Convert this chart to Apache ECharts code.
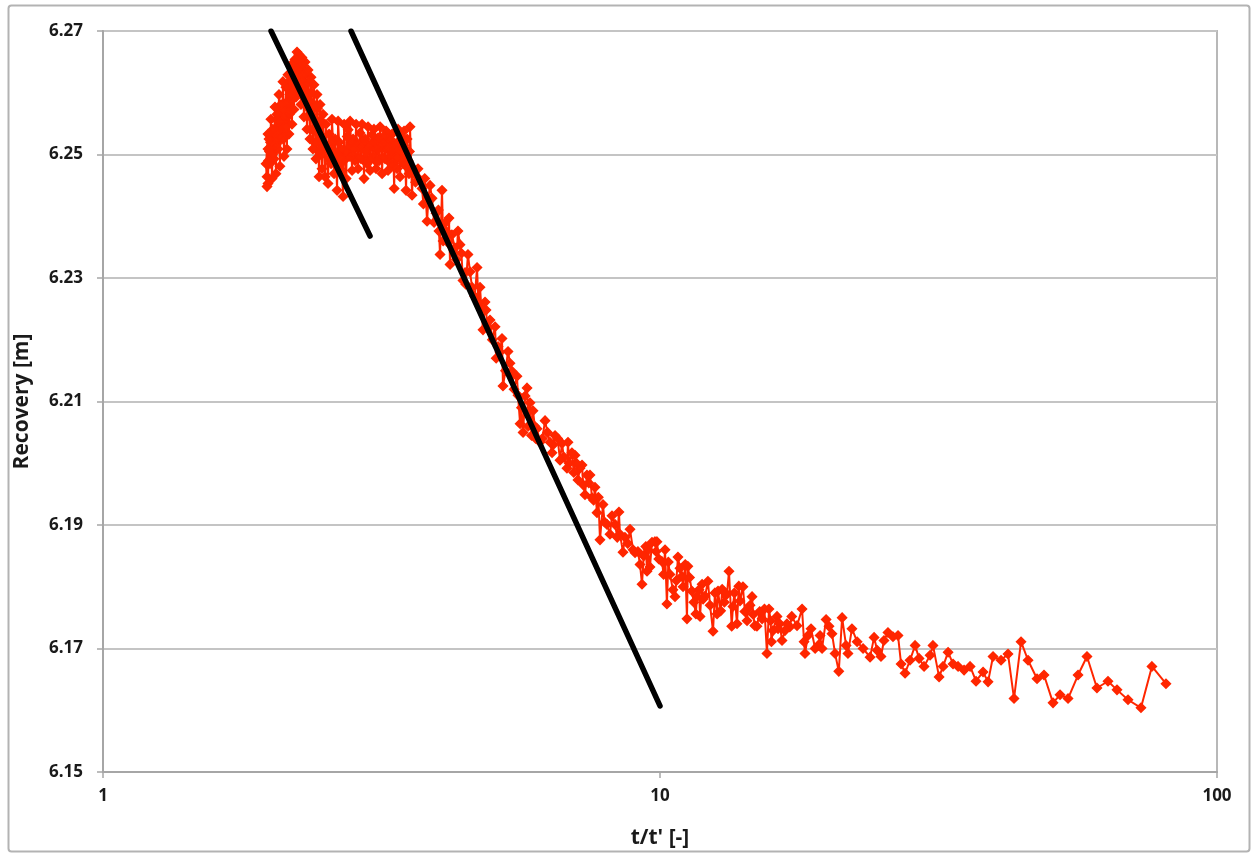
<!DOCTYPE html>
<html>
<head>
<meta charset="utf-8">
<script src="https://cdn.jsdelivr.net/npm/echarts@6/dist/echarts.min.js"></script>
<style>
  html, body { margin: 0; padding: 0; background: #fff; }
  #chart { width: 1252px; height: 854px; }
</style>
</head>
<body>
<div id="chart"></div>
<script>
// recovery data [t/t', recovery m]; late data (high t/t') first
const tailPts = [
  [80.98,6.1643],[76.42,6.1671],[73.03,6.1604],[69.22,6.1617],[66.14,6.1633],[63.72,6.1647],
  [60.88,6.1636],[58.42,6.1687],[56.30,6.1657],[54.02,6.1619],[52.26,6.1625],[50.77,6.1612],
  [48.91,6.1657],[47.52,6.1651],[45.79,6.1681],[44.48,6.1711],[43.21,6.1619],[42.15,6.1691],
  [40.95,6.1681],[39.62,6.1687],[38.81,6.1646],[38.02,6.1662],[36.93,6.1647],[36.04,6.1671],
  [35.15,6.1665],[34.29,6.1671],[33.58,6.1675],[32.90,6.1694],[32.23,6.1671],[31.70,6.1654],
  [30.91,6.1705],[30.54,6.1689],[29.79,6.1671],[29.18,6.1684],[28.71,6.1705],[28.11,6.1681],
  [27.54,6.1660],[27.09,6.1675],[26.75,6.1721],[26.20,6.1719],[25.66,6.1726],[25.24,6.1713],
  [24.93,6.1687],[24.54,6.1697],[24.23,6.1718],[23.83,6.1686],[23.15,6.1700],[22.59,6.1711],
  [22.11,6.1732],[21.75,6.1692],[21.58,6.1705],[21.23,6.1750],[20.94,6.1663],[20.62,6.1692],
  [20.36,6.1724],[20.11,6.1736],[19.87,6.1747],[19.54,6.1700],[19.38,6.1721],[19.23,6.1705],
  [18.99,6.1700],[18.67,6.1732],[18.44,6.1721],[18.21,6.1692],[18.14,6.1711],[17.99,6.1764]
];
const midPts = [
  [17.62,6.1737],[17.24,6.1752],[16.90,6.1740],[16.76,6.1729],[16.56,6.1713],[16.29,6.1732],
  [16.22,6.1752],[15.95,6.1729],[15.85,6.1711],[15.69,6.1764],[15.56,6.1692],[15.40,6.1764],
  [15.25,6.1748],[14.93,6.1736],[14.80,6.1737],[14.63,6.1784],[14.51,6.1770],[14.39,6.1764],
  [14.33,6.1745],[14.09,6.1800],[13.92,6.1777],[13.85,6.1801],[13.75,6.1740],[13.52,6.1768],
  [13.45,6.1736],[13.30,6.1825],[13.19,6.1788],[12.93,6.1796],[12.85,6.1761],[12.71,6.1793],
  [12.66,6.1756],[12.45,6.1728],[12.19,6.1809],[11.95,6.1780],[11.90,6.1804],[11.80,6.1752],
  [11.65,6.1784],[11.60,6.1756],[11.41,6.1793],[11.22,6.1833],[11.18,6.1748],[11.10,6.1836],
  [10.95,6.1817],[10.86,6.1830],[10.77,6.1848],[10.64,6.1784],[10.55,6.1795],[10.42,6.1820],
  [10.29,6.1772],[10.21,6.1860],[10.08,6.1841],[9.876,6.1873],[9.840,6.1857],[9.795,6.1873],
  [9.674,6.1872],[9.594,6.1832],[9.477,6.1825],[9.430,6.1865],[9.283,6.1804],[9.207,6.1836],
  [9.128,6.1857],[8.944,6.1860],[8.834,6.1893],[8.581,6.1856],[8.476,6.1885],[8.439,6.1921],
  [8.302,6.1901],[8.132,6.1885],[8.032,6.1901],[7.900,6.1933],[7.803,6.1876],[7.707,6.1920],
  [7.643,6.1961],[7.549,6.1944],[7.487,6.1981],[7.450,6.1968],[7.394,6.1981],[7.334,6.1949],
  [7.244,6.1997],[7.184,6.1992],[7.124,6.1973],[7.037,6.2013],[6.948,6.2017],[6.836,6.2034],
  [6.807,6.1992],[6.669,6.2032],[6.614,6.2005],[6.480,6.2045],[6.400,6.2017],[6.347,6.2034],
  [6.217,6.2069],[6.090,6.2034],[6.015,6.2056]
];
const midExtra = [
  [17.10,6.1735],[16.40,6.1740],[15.80,6.1745],[15.10,6.1760],[14.70,6.1755],[14.20,6.1760],
  [13.60,6.1790],[13.05,6.1775],[12.55,6.1790],[12.30,6.1770],[12.05,6.1785],[11.75,6.1795],
  [11.50,6.1775],[11.30,6.1815],[11.00,6.1800],[10.70,6.1810],[10.35,6.1840],[10.15,6.1820],
  [9.950,6.1845],[9.520,6.1860],[9.350,6.1850],[9.020,6.1855],[8.750,6.1870],[8.650,6.1880],
  [8.380,6.1880],[8.200,6.1915],[7.950,6.1905],[7.750,6.1945],[7.600,6.1940],[7.280,6.1965],
  [7.080,6.2000],[7.000,6.1985],[6.870,6.2000],[6.720,6.2010],[6.550,6.2040],[6.430,6.2030],
  [6.280,6.2050],[6.150,6.2040],[5.980,6.2040]
];
const steepPts = [
  [5.916,6.2085],[5.843,6.2098],[5.772,6.2122],[5.725,6.2109],[5.678,6.2050],[5.608,6.2064],
  [5.536,6.2141],[5.424,6.2149],[5.379,6.2162],[5.335,6.2181],[5.225,6.2125],[5.204,6.2202],
  [5.120,6.2189],[5.057,6.2221],[4.952,6.2232],[4.871,6.2248],[4.851,6.2261],[4.811,6.2216],
  [4.752,6.2285],[4.694,6.2317],[4.598,6.2285],[4.521,6.2338],[4.467,6.2309],[4.429,6.2296],
  [4.375,6.2354],[4.338,6.2376],[4.282,6.2349],[4.198,6.2322],[4.180,6.2397],[4.163,6.2357],
  [4.112,6.2389],[4.061,6.2442],[4.028,6.2338],[4.010,6.2376],[3.962,6.2405],[3.897,6.2429],
  [3.865,6.2450],[3.818,6.2392],[3.781,6.2461],[3.739,6.2445],[3.677,6.2477],[3.603,6.2477],
  [3.588,6.2434]
];
const steepExtra = [
  [5.960,6.2060],[5.880,6.2045],[5.800,6.2060],[5.640,6.2090],[5.560,6.2110],[5.470,6.2120],
  [5.280,6.2150],[5.160,6.2180],[5.080,6.2170],[5.000,6.2200],[4.900,6.2220],[4.780,6.2250],
  [4.720,6.2260],[4.650,6.2270],[4.560,6.2310],[4.480,6.2290],[4.400,6.2340],[4.310,6.2330],
  [4.230,6.2370],[4.140,6.2375],[4.080,6.2360],[4.000,6.2410],[3.930,6.2390],[3.840,6.2430],
  [3.760,6.2420],[3.700,6.2460],[3.640,6.2455]
];
const plateauPts = [
  [3.558,6.2545],[3.550,6.2505],[3.543,6.2469],[3.529,6.2490],[3.515,6.2525],[3.507,6.2480],
  [3.500,6.2442],[3.485,6.2500],[3.471,6.2538],[3.464,6.2515],[3.457,6.2485],[3.442,6.2528],
  [3.428,6.2509],[3.421,6.2492],[3.414,6.2464],[3.400,6.2522],[3.387,6.2541],[3.380,6.2503],
  [3.373,6.2477],[3.359,6.2495],[3.345,6.2517],[3.338,6.2480],[3.332,6.2445],[3.318,6.2512],
  [3.304,6.2533],[3.297,6.2507],[3.290,6.2485],[3.276,6.2525],[3.263,6.2509],[3.256,6.2490],
  [3.249,6.2474],[3.236,6.2515],[3.223,6.2538],[3.216,6.2512],[3.210,6.2493],[3.196,6.2530],
  [3.183,6.2517],[3.176,6.2495],[3.170,6.2469],[3.157,6.2520],[3.144,6.2545],[3.137,6.2515],
  [3.131,6.2490],[3.118,6.2527],[3.105,6.2509],[3.098,6.2488],[3.092,6.2477],[3.079,6.2512],
  [3.066,6.2541],[3.060,6.2518],[3.054,6.2497],[3.041,6.2532],[3.028,6.2517],[3.022,6.2492],
  [3.016,6.2474],[3.003,6.2510],[2.991,6.2545],[2.985,6.2515],[2.979,6.2485],[2.966,6.2505],
  [2.954,6.2525],[2.948,6.2490],[2.942,6.2461],[2.930,6.2520],[2.918,6.2549],[2.912,6.2518],
  [2.906,6.2493],[2.894,6.2535],[2.882,6.2513],[2.876,6.2495],[2.870,6.2477],[2.858,6.2518],
  [2.847,6.2549],[2.841,6.2520],[2.835,6.2490],[2.823,6.2508],[2.812,6.2525],[2.806,6.2500],
  [2.800,6.2474],[2.788,6.2520],[2.777,6.2554],[2.771,6.2525],[2.766,6.2497],[2.755,6.2540],
  [2.744,6.2529],[2.738,6.2495],[2.732,6.2461],[2.721,6.2505],[2.710,6.2549],[2.704,6.2490],
  [2.698,6.2432],[2.687,6.2470],[2.676,6.2509],[2.670,6.2495],[2.665,6.2477],[2.654,6.2520],
  [2.643,6.2554],[2.637,6.2500],[2.632,6.2442],[2.621,6.2488],[2.610,6.2525],[2.604,6.2498],
  [2.599,6.2469],[2.588,6.2518],[2.577,6.2557],[2.572,6.2520],[2.567,6.2485],[2.556,6.2510],
  [2.546,6.2533],[2.540,6.2495],[2.535,6.2453],[2.524,6.2505],[2.514,6.2549],[2.509,6.2510],
  [2.504,6.2464]
];
const peakPts = [
  [2.483,6.2565],[2.478,6.2520],[2.473,6.2477],[2.468,6.2500],[2.463,6.2525],[2.458,6.2555],
  [2.453,6.2581],[2.448,6.2520],[2.443,6.2464],[2.437,6.2505],[2.432,6.2549],[2.427,6.2575],
  [2.422,6.2597],[2.417,6.2545],[2.412,6.2493],[2.407,6.2518],[2.402,6.2541],[2.397,6.2580],
  [2.392,6.2613],[2.387,6.2560],[2.382,6.2509],[2.377,6.2540],[2.373,6.2573],[2.368,6.2600],
  [2.363,6.2625],[2.358,6.2575],[2.353,6.2525],[2.348,6.2562],[2.343,6.2597],[2.338,6.2618],
  [2.334,6.2637],[2.329,6.2590],[2.324,6.2541],[2.319,6.2578],[2.314,6.2613],[2.310,6.2632],
  [2.305,6.2650],[2.300,6.2605],[2.295,6.2561],[2.290,6.2595],[2.286,6.2629],[2.281,6.2645],
  [2.276,6.2657],[2.271,6.2620],[2.267,6.2581],[2.262,6.2612],[2.258,6.2641],[2.253,6.2652],
  [2.248,6.2662],[2.243,6.2632],[2.239,6.2605],[2.234,6.2638],[2.230,6.2666]
];
const earlyPts = [
  [2.220,6.2593],[2.215,6.2625],[2.211,6.2654],[2.206,6.2612],[2.202,6.2573],[2.197,6.2605],
  [2.193,6.2637],[2.188,6.2592],[2.184,6.2549],[2.179,6.2598],[2.175,6.2645],[2.170,6.2620],
  [2.166,6.2597],[2.161,6.2565],[2.157,6.2533],[2.152,6.2580],[2.148,6.2629],[2.143,6.2568],
  [2.139,6.2509],[2.134,6.2560],[2.130,6.2609],[2.126,6.2583],[2.122,6.2557],[2.117,6.2527],
  [2.113,6.2497],[2.108,6.2558],[2.104,6.2618],[2.100,6.2572],[2.096,6.2525],[2.091,6.2553],
  [2.087,6.2581],[2.082,6.2530],[2.078,6.2481],[2.074,6.2540],[2.070,6.2597],[2.065,6.2553],
  [2.061,6.2509],[2.057,6.2537],[2.053,6.2565],[2.048,6.2517],[2.044,6.2469],[2.040,6.2523],
  [2.036,6.2577],[2.032,6.2535],[2.028,6.2493],[2.023,6.2517],[2.019,6.2541],[2.015,6.2500],
  [2.011,6.2461],[2.006,6.2510],[2.002,6.2557],[1.998,6.2520],[1.994,6.2485],[1.990,6.2505],
  [1.986,6.2525],[1.982,6.2490],[1.978,6.2453],[1.978,6.2509],[1.970,6.2464],[1.978,6.2533],
  [1.962,6.2485],[1.970,6.2448]
];

// straight-line fits drawn by hand on the semi-log plot
const fitEarly = [[2.003,6.27],[3.016,6.2368]];
const fitLate = [[2.788,6.27],[10,6.1607]];

// axis ranges
const xMin = 1, xMax = 100;
const yMin = 6.15, yMax = 6.27, yStep = 0.02;

// the later part is put in t/t' order, the early blob keeps its own order
const lateData = [].concat(tailPts, midPts, midExtra, steepPts, steepExtra)
  .sort((a, b) => b[0] - a[0]);
const recovery = lateData.concat(plateauPts, peakPts, earlyPts);

var myChart = echarts.init(document.getElementById("chart"));
var labelFont = { fontFamily: "Open Sans", fontWeight: "bold", color: "#1a1a1a" };

var option = {
  animation: false,
  backgroundColor: "#fff",
  graphic: [
    {
      type: "rect",
      shape: { x: 8.5, y: 5.5, width: 1241, height: 846, r: 3 },
      style: { fill: "none", stroke: "#b3b3b3", lineWidth: 2 },
      z: -1,
    },
  ],
  grid: {
    left: 103,
    top: 31,
    right: 35,
    bottom: 74,
    show: true,
    borderColor: "#b8b8b8",
    borderWidth: 2,
  },
  xAxis: {
    type: "log",
    logBase: 10,
    min: xMin,
    max: xMax,
    name: "t/t' [-]",
    nameLocation: "middle",
    nameGap: 56,
    nameTextStyle: Object.assign({ fontSize: 21 }, labelFont),
    axisLine: { lineStyle: { color: "#a6a6a6", width: 2 } },
    axisTick: { show: true, length: 6, lineStyle: { color: "#a6a6a6", width: 1.5 } },
    minorTick: { show: false },
    axisLabel: Object.assign({ fontSize: 17, margin: 16 }, labelFont),
    splitLine: { show: false },
  },
  yAxis: {
    type: "value",
    min: yMin,
    max: yMax,
    interval: yStep,
    name: "Recovery [m]",
    nameLocation: "middle",
    nameRotate: 90,
    nameGap: 70,
    nameTextStyle: Object.assign({ fontSize: 21 }, labelFont),
    axisLine: { show: true, lineStyle: { color: "#a6a6a6", width: 2 } },
    axisTick: { show: true, length: 6, lineStyle: { color: "#a6a6a6", width: 1.5 } },
    axisLabel: Object.assign(
      { fontSize: 17, margin: 20, formatter: (v) => v.toFixed(2) },
      labelFont
    ),
    splitLine: { show: true, lineStyle: { color: "#c4c4c4", width: 2 } },
  },
  series: [
    {
      name: "recovery",
      type: "line",
      data: recovery,
      symbol: "diamond",
      symbolSize: 9,
      showSymbol: true,
      lineStyle: { color: "#ff2600", width: 2 },
      itemStyle: { color: "#ff2600", borderColor: "#ff2600", borderWidth: 1.5 },
      z: 2,
    },
    {
      name: "fit early",
      type: "line",
      data: fitEarly,
      symbol: "none",
      lineStyle: { color: "#000", width: 5.5, cap: "round" },
      z: 3,
    },
    {
      name: "fit late",
      type: "line",
      data: fitLate,
      symbol: "none",
      lineStyle: { color: "#000", width: 5.5, cap: "round" },
      z: 3,
    },
  ],
};

myChart.setOption(option);
</script>
</body>
</html>
